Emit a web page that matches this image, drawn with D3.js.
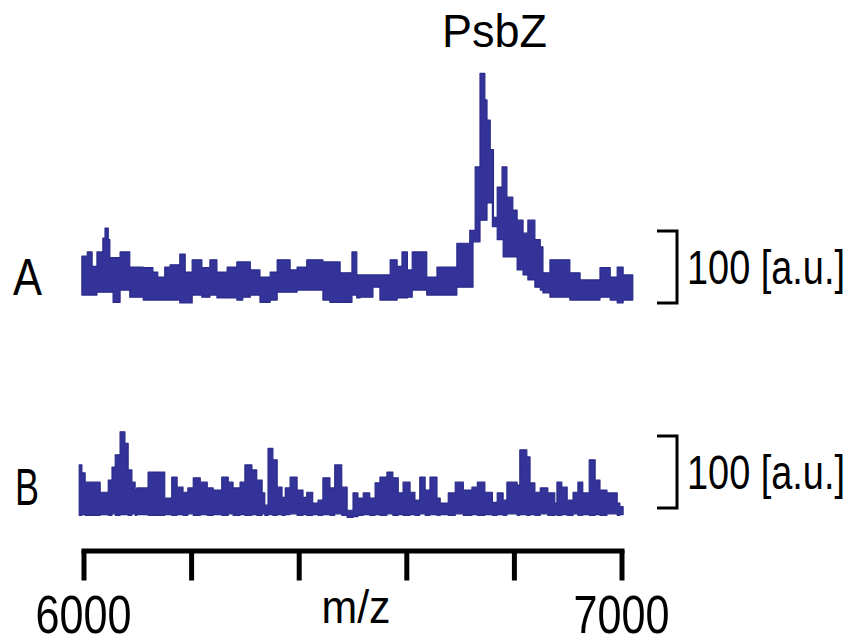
<!DOCTYPE html>
<html>
<head>
<meta charset="utf-8">
<script src="https://d3js.org/d3.v7.min.js"></script>
<style>
  body { margin: 0; background: #fff; }
  text { font-family: "Liberation Sans Narrow", "Liberation Sans", Arial, sans-serif; fill: #000; }
</style>
</head>
<body>
<div id="chart"></div>
<script>
// trace A: step breakpoints (m/z), upper and lower envelope (a.u.)
var mzA = [5997, 6007, 6016, 6025, 6036, 6040, 6046, 6049, 6055, 6068, 6086, 6111, 6129, 6138, 6151, 6161,
  6179, 6189, 6202, 6220, 6235, 6248, 6267, 6285, 6296, 6310, 6328, 6347, 6360, 6384, 6397, 6415, 6445,
  6458, 6477, 6499, 6508, 6514, 6538, 6551, 6570, 6583, 6592, 6602, 6611, 6638, 6657, 6694, 6718, 6724,
  6728, 6737, 6746, 6750, 6756, 6760, 6762, 6769, 6778, 6780, 6787, 6798, 6806, 6817, 6826, 6839, 6849,
  6854, 6867, 6904, 6923, 6960, 6979, 6992, 7003, 7021];
var hiA = [65, 71, 51, 71, 90, 104, 88, 63, 63, 71, 50, 49, 43, 36, 50, 53,
  68, 43, 60, 49, 60, 43, 50, 57, 57, 46, 36, 43, 60, 46, 50, 60, 57,
  57, 42, 71, 39, 39, 39, 39, 60, 51, 71, 46, 71, 36, 50, 83, 101, 101,
  189, 319, 282, 254, 213, 213, 119, 161, 189, 189, 147, 129, 115, 97, 115, 88, 78,
  42, 60, 42, 32, 49, 36, 50, 39, 39];
var loA = [11, 11, 11, 15, 15, 15, 15, 15, 1, 18, 8, 4, 4, 4, 4, 4,
  0, 0, 11, 8, 11, 7, 7, 4, 8, 11, 1, 4, 15, 15, 18, 18, 4,
  1, 1, 11, 7, 8, 22, 4, 4, 7, 7, 8, 18, 11, 11, 22, 22, 85,
  85, 115, 115, 139, 139, 106, 106, 88, 88, 64, 64, 64, 46, 39, 32, 22, 18,
  14, 8, 4, 4, 8, 4, 0, 4, 4];

// trace B
var mzB = [5992, 5997, 6003, 6031, 6046, 6053, 6059, 6068, 6077, 6083, 6090, 6096, 6099, 6120, 6151, 6164,
  6174, 6185, 6194, 6204, 6217, 6230, 6241, 6257, 6269, 6278, 6291, 6300, 6313, 6322, 6332, 6337, 6343,
  6352, 6360, 6369, 6375, 6384, 6397, 6408, 6415, 6426, 6436, 6445, 6458, 6467, 6480, 6490, 6501, 6510,
  6520, 6532, 6542, 6551, 6564, 6575, 6585, 6594, 6607, 6616, 6625, 6635, 6644, 6657, 6663, 6678, 6691,
  6706, 6722, 6732, 6746, 6760, 6769, 6780, 6787, 6806, 6811, 6824, 6830, 6839, 6849, 6863, 6876, 6880,
  6889, 6899, 6910, 6919, 6928, 6940, 6951, 6960, 6973, 6992, 6997, 7003];
var hiB = [71, 60, 47, 33, 50, 68, 85, 117, 101, 64, 47, 36, 39, 61, 25, 54,
  40, 33, 39, 53, 47, 39, 36, 54, 47, 39, 47, 71, 64, 50, 32, 15, 94,
  78, 40, 26, 39, 54, 36, 26, 33, 18, 22, 53, 39, 71, 40, 8, 32, 25,
  32, 25, 46, 54, 61, 53, 32, 47, 33, 22, 54, 36, 54, 25, 18, 32, 47,
  36, 40, 47, 33, 19, 32, 22, 47, 43, 92, 82, 46, 33, 39, 32, 18, 47,
  40, 22, 33, 47, 32, 78, 50, 36, 32, 18, 13, 13];
var loB = [1, 2, 1, 2, 1, 3, 1, 2, 2, 1, 3, 1, 2, 1, 2, 1,
  2, 1, 3, 1, 2, 1, 2, 1, 3, 1, 2, 1, 2, 1, 3, 1, 2,
  1, 2, 1, 2, 3, 1, 2, 1, 2, 1, 2, 1, 3, 1, -2, -1, 1,
  2, 1, 2, 1, 3, 1, 2, 1, 2, 1, 3, 1, 2, 1, 2, 1, 3,
  1, 2, 1, 2, 1, 2, 1, 3, 1, 2, 1, 2, 1, 3, 1, 2, 1,
  2, 1, 3, 1, 2, 1, 2, 1, 3, 1, 2, 2];

var axisTicks = [6000, 6200, 6400, 6600, 6800, 7000];
var axisLabels = ["6000", "7000"];
var traceNames = ["A", "B"];
var peakLabel = "PsbZ";
var barLabel = "100 [a.u.]";

var width = 855, height = 643;
var color = "#333399";

var svg = d3.select("#chart").append("svg")
  .attr("width", width)
  .attr("height", height);

var x = d3.scaleLinear().domain([6000, 7000]).range([83.5, 621.5]);
var yA = d3.scaleLinear().domain([0, 100]).range([303, 231]);
var yB = d3.scaleLinear().domain([0, 100]).range([516, 444]);

// narrow text: squeeze horizontally to the width seen in the figure
function label(str, left, baseline, size, w) {
  var t = svg.append("text")
    .attr("font-size", size)
    .text(str);
  var k = w / t.node().getComputedTextLength();
  t.attr("transform", "translate(" + left + "," + baseline + ") scale(" + k + ",1)");
  return t;
}

function drawTrace(mz, hi, lo, y) {
  var rows = mz.map(function(m, i) { return {m: m, hi: hi[i], lo: lo[i]}; });
  var area = d3.area()
    .x(function(d) { return x(d.m); })
    .y0(function(d) { return y(d.lo); })
    .y1(function(d) { return y(d.hi); })
    .curve(d3.curveStepAfter);
  svg.append("path")
    .datum(rows)
    .attr("d", area)
    .attr("fill", color)
    .attr("stroke", "#2b2b8c")
    .attr("stroke-width", 1.2)
    .attr("stroke-linejoin", "round");
}

drawTrace(mzA, hiA, loA, yA);
drawTrace(mzB, hiB, loB, yB);

// scale bars: 100 a.u.
function scaleBar(y, base) {
  var y0 = y(base), y1 = y(base + 100);
  svg.append("path")
    .attr("d", "M657," + y1 + "H677V" + y0 + "H657")
    .attr("fill", "none")
    .attr("stroke", "#000")
    .attr("stroke-width", 3);
  label(barLabel, 687, (y0 + y1) / 2 + 17, 49, 158);
}
scaleBar(yA, 0);
scaleBar(yB, 11);

// trace letters
label(traceNames[0], 13, 295, 51, 29);
label(traceNames[1], 15, 505, 51, 24);

// peak label
label(peakLabel, 442, 47, 47, 105);

// m/z axis
var axis = svg.append("g")
  .attr("transform", "translate(0,550.5)")
  .call(d3.axisBottom(x).tickValues(axisTicks).tickSize(30).tickSizeOuter(0).tickFormat(""));
axis.select(".domain").attr("stroke", "#000").attr("stroke-width", 5).attr("stroke-linecap", "square");
axis.selectAll(".tick line").attr("stroke", "#000").attr("stroke-width", 5);

axisLabels.forEach(function(d) {
  label(d, x(+d) - 48, 633, 54, 96);
});
label("m/z", x(6500) - 31, 623, 46, 69);
</script>
</body>
</html>
